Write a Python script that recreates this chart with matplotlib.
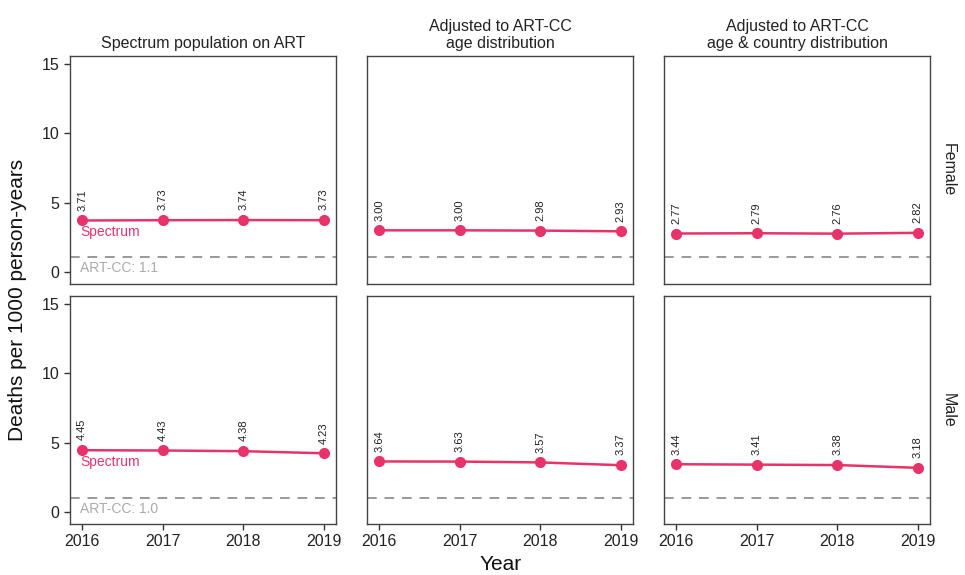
import matplotlib
matplotlib.use("Agg")
import matplotlib.pyplot as plt

years = [2016, 2017, 2018, 2019]
col_titles = ["Spectrum population on ART",
              "Adjusted to ART-CC\nage distribution",
              "Adjusted to ART-CC\nage & country distribution"]
row_titles = ["Female", "Male"]
female_vals = [[3.71, 3.73, 3.74, 3.73],
               [3.00, 3.00, 2.98, 2.93],
               [2.77, 2.79, 2.76, 2.82]]
male_vals = [[4.45, 4.43, 4.38, 4.23],
             [3.64, 3.63, 3.57, 3.37],
             [3.44, 3.41, 3.38, 3.18]]
artcc = [1.1, 1.0]
artcc_labels = ["ART-CC: 1.1", "ART-CC: 1.0"]
yticks = [0, 5, 10, 15]

line_col = "#E8336A"
ref_col = "#999999"

plt.rcParams['font.family'] = ['Liberation Sans', 'DejaVu Sans']
fig = plt.figure(figsize=(9.65, 5.75), dpi=100)
W, H = 965, 575
lefts = [70, 367, 664]
pw = 266
tops = [56, 296]
ph = 228

for r, vals in enumerate([female_vals, male_vals]):
    for c in range(3):
        ax = fig.add_axes([lefts[c] / W, 1 - (tops[r] + ph) / H, pw / W, ph / H])
        v = vals[c]
        ax.axhline(artcc[r], color=ref_col, ls=(0, (5, 4)), lw=1.4, zorder=1)
        ax.plot(years, v, color=line_col, lw=1.8, marker='o', ms=7, zorder=3)
        for x, y in zip(years, v):
            ax.annotate(f"{y:.2f}", (x, y), xytext=(0, 7), textcoords='offset points',
                        rotation=90, ha='center', va='bottom', fontsize=8, color='#222222')
        ax.set_xlim(2015.85, 2019.15)
        ax.set_ylim(-0.87, 15.57)
        ax.set_yticks(yticks)
        ax.set_xticks(years)
        ax.tick_params(direction='out', length=4, width=1, colors='#333333', labelsize=11.5,
                       labelcolor='#222222')
        for s in ax.spines.values():
            s.set_color('#444444')
            s.set_linewidth(1)
        if c > 0:
            ax.set_yticklabels([])
            ax.tick_params(axis='y', length=0)
        if r == 0:
            ax.set_xticklabels([])
            ax.tick_params(axis='x', length=0)
            ax.set_title(col_titles[c], fontsize=11.5, color='#222222', pad=6, linespacing=1.1)
        if c == 2:
            ax.text(1.04, 0.5, row_titles[r], transform=ax.transAxes, rotation=-90,
                    ha='left', va='center', fontsize=11.5, color='#222222')
        if c == 0:
            ax.text(2015.98, v[0] - 0.35, "Spectrum", color=line_col, fontsize=10,
                    ha='left', va='top')
            ax.text(2015.98, artcc[r] - 0.3, artcc_labels[r], color='#AAAAAA', fontsize=10,
                    ha='left', va='top')

fig.text(18 / W, 0.5 - 12 / H, "Deaths per 1000 person-years", rotation=90, ha='center',
         va='center', fontsize=15, color='#111111')
fig.text((70 + 931) / 2 / W, 1 - 565 / H, "Year", ha='center', va='center', fontsize=15,
         color='#111111')

fig.savefig("out.png", dpi=100, facecolor='white')
